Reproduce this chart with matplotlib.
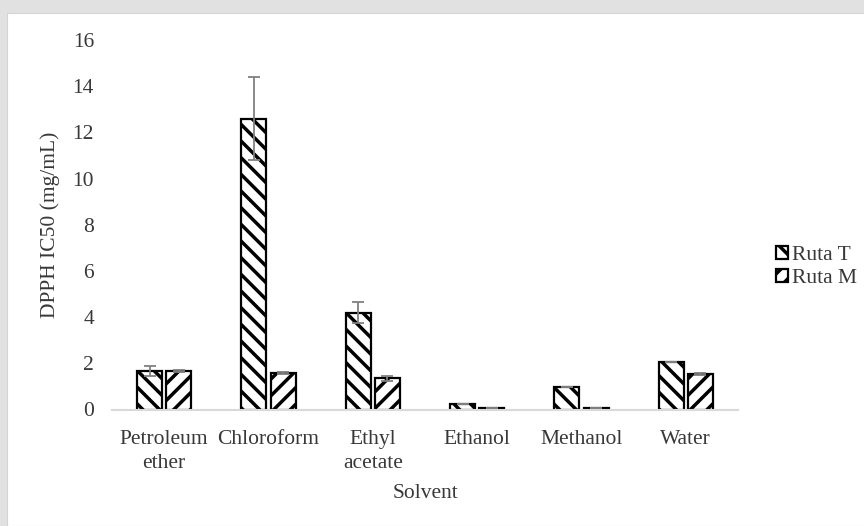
import numpy as np
import matplotlib
matplotlib.use("Agg")
import matplotlib.pyplot as plt
from matplotlib.patches import Rectangle

solvents = ["Petroleum\nether", "Chloroform", "Ethyl\nacetate", "Ethanol", "Methanol", "Water"]
ruta_t = [1.65, 12.6, 4.2, 0.24, 0.96, 2.06]
ruta_t_err = [0.22, 1.8, 0.46, 0.0, 0.0, 0.0]
ruta_m = [1.65, 1.58, 1.35, 0.07, 0.07, 1.52]
ruta_m_err = [0.04, 0.04, 0.12, 0.0, 0.0, 0.04]
yticks = [0, 2, 4, 6, 8, 10, 12, 14, 16]

plt.rcParams["font.family"] = ["Liberation Serif", "DejaVu Serif"]
plt.rcParams["hatch.linewidth"] = 2.5
plt.rcParams["hatch.color"] = "black"

W, H = 864, 526
fs = 15.5
fig = plt.figure(figsize=(W / 100, H / 100), dpi=100, facecolor="#e1e1e1")
# white card inside the grey frame
fig.patches.append(Rectangle((7 / W, 0), 1, 1 - 13 / H, transform=fig.transFigure,
                             facecolor="white", edgecolor="#d4d4d4", lw=0.8, zorder=-10))

ax = fig.add_axes([112 / W, 1 - 409.5 / H, (738 - 112) / W, (409.5 - 40) / H])
ax.set_facecolor("none")
ax.set_zorder(5)

x = np.arange(len(solvents))
width = 0.24
off = 0.14
text_color = "#383838"
err_kw = dict(ecolor="#808080", elinewidth=1.3, capsize=4, capthick=1.3)

ax.bar(x - off, ruta_t, width, yerr=ruta_t_err, facecolor="white", edgecolor="black",
       linewidth=1.6, hatch="\\\\", label="Ruta T", error_kw=err_kw)
ax.bar(x + off, ruta_m, width, yerr=ruta_m_err, facecolor="white", edgecolor="black",
       linewidth=1.6, hatch="//", label="Ruta M", error_kw=err_kw)

ax.set_xlim(-0.5, len(solvents) - 0.5)
ax.set_ylim(0, 16)
ax.set_yticks(yticks)
ax.set_xticks(x)
ax.set_xticklabels(solvents, fontsize=fs, color=text_color, linespacing=1.35)
ax.tick_params(axis="y", length=0, pad=13, labelsize=fs, labelcolor=text_color)
ax.tick_params(axis="x", length=0, pad=15)

for side in ["top", "right", "left"]:
    ax.spines[side].set_visible(False)
ax.spines["bottom"].set_color("#d9d9d9")
ax.spines["bottom"].set_linewidth(1.5)

fig.text(425 / W, 1 - 493 / H, "Solvent", ha="center", va="center",
         fontsize=fs, color=text_color)
fig.text(50 / W, 1 - 225 / H, "DPPH IC50 (mg/mL)", ha="center", va="center",
         rotation=90, fontsize=fs, color=text_color)

fig.legend(loc="center left", bbox_to_anchor=(776 / W, 1 - 267 / H), frameon=False,
           fontsize=fs, handlelength=0.55, handleheight=0.55, handletextpad=0.2,
           labelspacing=0.2, borderpad=0, borderaxespad=0, labelcolor=text_color)

fig.savefig("out.png", dpi=100, facecolor=fig.get_facecolor())
